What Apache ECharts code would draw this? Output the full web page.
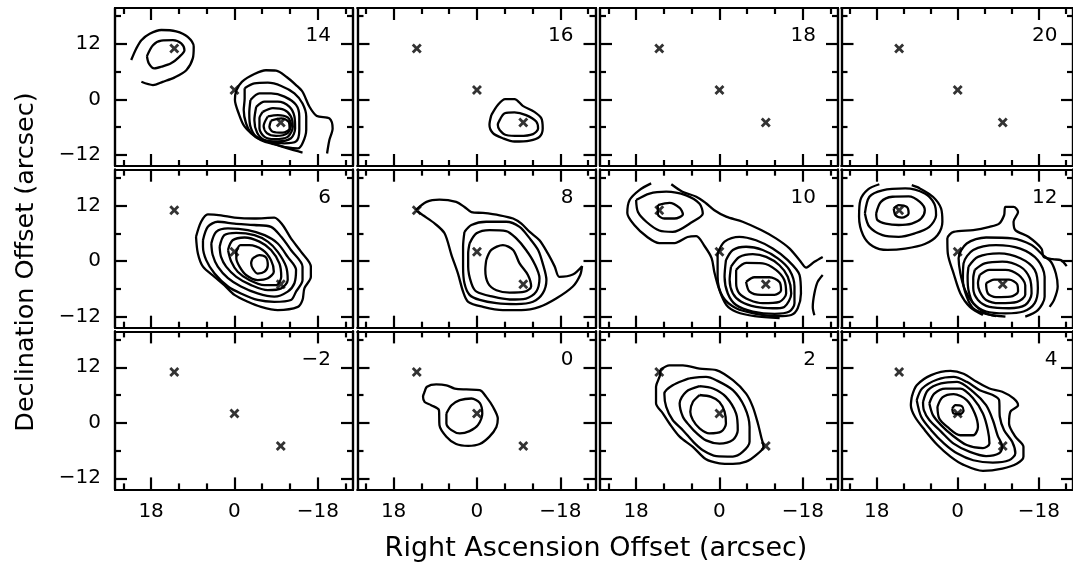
<!DOCTYPE html>
<html><head><meta charset="utf-8">
<script src="https://cdn.jsdelivr.net/npm/echarts@6/dist/echarts.min.js"></script>
<style>html,body{margin:0;padding:0;background:#fff}#chart{width:1073px;height:563px}</style>
</head><body><div id="chart"></div><script>
// Channel maps: velocity label of each panel, row by row
const panelLabels = ['14', '16', '18', '20', '6', '8', '10', '12', '\u22122', '0', '2', '4'];

// Axis ticks (arcsec)
const raMajorTicks = [18, 0, -18];
const raMinorTicks = [24, 12, 6, -6, -12, -24];
const decMajorTicks = [12, 0, -12];
const decMinorTicks = [18, 6, -6];
const raRange = [-25.6, 25.8];
const decRange = [-14.4, 19.75];

// Source positions marked with crosses (RA offset, Dec offset)
const sourceRA = [13, 0, -10];
const sourceDec = [11, 2, -5];

// Contours as [RA offset, Dec offset] vertices
const p14Closed = [
  [[18.9,9.35],[17.6,11.7],[15.8,12.7],[13.3,12.8],[11.5,12.1],[10.8,10.6],[11.9,9.2],[13.7,7.8],[15.8,7.05],[17.3,6.7],[18.5,7.8]],
  [[-2.2,2.4],[-4.3,3.45],[-7.2,3.6],[-10.1,2.9],[-12.95,1.3],[-14.7,-0.9],[-15.5,-3.7],[-15.5,-6.6],[-14.7,-9.5],[-13.7,-10.6],[-11.5,-10.4],[-8.6,-9.7],[-5.75,-8.8],[-3.6,-7.3],[-2.5,-5.2],[-2.0,-2.3],[-2.2,0.2]],
  [[-3.45,-0.15],[-5.4,1.3],[-7.9,1.3],[-10.8,0.6],[-13.3,-1.2],[-14.0,-3.7],[-14.0,-6.6],[-13.3,-9.1],[-10.8,-9.5],[-7.2,-9.1],[-4.7,-8.1],[-3.45,-5.9],[-3.2,-3.0]],
  [[-4.7,-1.6],[-6.5,-0.5],[-9.35,-0.5],[-11.9,-1.6],[-12.95,-3.7],[-13.1,-6.3],[-12.2,-8.4],[-9.35,-9.1],[-6.5,-8.8],[-4.9,-7.2],[-4.3,-4.5]],
  [[-6.1,-2.7],[-8.3,-1.9],[-10.8,-2.3],[-12.2,-3.7],[-12.6,-5.9],[-11.5,-8.1],[-8.6,-8.6],[-6.5,-8.1],[-5.4,-6.3],[-5.4,-4.1]],
  [[-7.2,-3.7],[-9.35,-3.4],[-11.5,-3.9],[-12.2,-5.5],[-11.5,-7.3],[-9.0,-7.9],[-7.0,-7.3],[-6.3,-5.75]],
  [[-7.9,-4.6],[-10.1,-4.1],[-11.65,-4.8],[-11.9,-6.3],[-10.4,-7.2],[-8.3,-7.0],[-7.55,-5.9]]
];
const p14Open = [
  [[22.3,8.5],[21.2,11.0],[20.1,12.8],[18.3,14.2],[15.8,15.0],[12.6,14.7],[10.1,13.5],[8.8,11.4],[9.0,8.85],[10.4,6.3],[12.9,4.75],[15.5,3.8],[17.6,3.1],[20.1,3.8]],
  [[-14.7,-11.5],[-11.5,-10.6],[-7.9,-9.4],[-4.7,-8.1],[-2.2,-5.9],[-0.9,-3.0],[-0.1,-0.1],[-0.4,1.9],[-1.6,3.8],[-4.3,5.5],[-6.8,6.3],[-9.0,6.2],[-11.2,4.9],[-13.3,3.1],[-14.7,1.65],[-16.2,-1.6],[-17.8,-3.6],[-20.5,-4.1],[-21.2,-6.3],[-20.5,-8.8],[-20.0,-11.7]]
];

const p16Closed = [
  [[-3.1,-3.4],[-4.5,-1.2],[-6.1,0.07],[-8.1,0.07],[-9.9,-1.4],[-12.4,-2.7],[-13.9,-4.1],[-14.2,-6.3],[-13.5,-8.1],[-11.4,-8.9],[-8.1,-9.1],[-5.6,-8.4],[-3.45,-7.3],[-2.7,-5.5]],
  [[-4.9,-4.5],[-6.0,-3.0],[-8.1,-2.8],[-10.6,-3.4],[-12.8,-4.8],[-13.2,-6.3],[-12.1,-7.5],[-9.2,-7.9],[-6.3,-7.7],[-4.9,-6.6],[-4.5,-5.5]]
];
const p16Open = [];

const p18Closed = [];
const p18Open = [];
const p20Closed = [];
const p20Open = [];

const p6Closed = [
  [[8.3,5.25],[7.2,8.5],[5.75,10.1],[2.9,9.9],[0,9.4],[-4.3,9.2],[-8.6,9.4],[-10.4,7.8],[-12.2,4.9],[-14.4,2.0],[-16.5,-1.2],[-16.5,-3.4],[-15.1,-5.9],[-14.7,-8.4],[-13.7,-9.9],[-9.35,-10.6],[-5.75,-9.9],[-2.9,-8.8],[0,-7.3],[2.2,-5.2],[4.3,-3.4],[6.8,-1.2],[7.9,1.65]],
  [[6.8,4.5],[5.75,7.4],[3.6,8.5],[0,8.1],[-4.3,7.8],[-7.9,7.4],[-10.1,5.25],[-12.2,2.4],[-14.7,-1.2],[-14.7,-4.1],[-13.3,-6.6],[-12.2,-8.4],[-8.6,-8.8],[-5.0,-8.4],[-1.4,-7.0],[1.4,-5.5],[4.3,-2.7],[6.1,0.2],[6.8,3.1]],
  [[5.0,3.8],[3.95,6.3],[1.4,7.05],[-2.9,6.7],[-6.5,5.6],[-9.35,3.8],[-11.5,0.9],[-13.3,-1.9],[-12.95,-4.8],[-11.5,-6.6],[-8.6,-7.7],[-5.0,-7.0],[-1.4,-5.5],[1.4,-3.7],[3.6,-1.2],[4.7,1.3]],
  [[3.2,3.1],[2.2,5.6],[-0.4,6.1],[-4.3,5.6],[-7.2,4.2],[-9.35,2.0],[-11.15,-1.2],[-11.5,-4.1],[-10.1,-5.9],[-7.2,-6.3],[-3.6,-5.2],[-0.4,-3.4],[1.8,-1.2],[2.9,0.9]],
  [[1.4,2.4],[0.4,4.5],[-2.2,5.1],[-5.4,4.2],[-7.9,2.4],[-9.7,-0.5],[-10.1,-3.4],[-9.0,-5.2],[-6.5,-5.2],[-3.2,-4.1],[-0.7,-2.3],[0.7,-0.1]],
  [[-0.4,2.0],[-1.3,3.45],[-3.2,3.45],[-6.1,2.4],[-7.9,0.2],[-8.5,-2.3],[-7.2,-3.7],[-5.0,-4.1],[-2.5,-3.0],[-1.1,-1.2],[-0.4,0.6]],
  [[-3.95,0.6],[-5.4,1.3],[-6.8,0.8],[-7.2,-0.9],[-6.5,-2.3],[-5.0,-2.7],[-3.95,-1.6],[-3.6,-0.4]]
];
const p6Open = [];

const p8Closed = [
  [[13.2,11.0],[10.9,12.8],[8.1,13.3],[4.5,12.8],[2.7,11.7],[1.2,10.6],[-1.3,10.4],[-4.9,9.9],[-7.8,9.2],[-9.6,8.1],[-11.4,6.3],[-13.5,4.5],[-15.3,1.65],[-16.8,-1.2],[-17.8,-3.4],[-20.7,-2.9],[-22.7,-1.1],[-22.3,-3.0],[-20.7,-5.5],[-17.1,-8.1],[-13.5,-9.9],[-9.6,-10.6],[-5.6,-10.6],[-1.3,-9.9],[1.9,-8.8],[3.0,-6.6],[4.1,-2.7],[5.5,1.3],[7.0,6.0],[9.1,8.1],[11.65,9.9]],
  [[2.7,6.3],[1.2,7.8],[-2.0,8.5],[-6.3,8.5],[-9.2,7.4],[-11.4,4.9],[-13.2,2.4],[-14.2,-0.5],[-15.0,-4.1],[-14.2,-7.0],[-12.1,-8.8],[-8.5,-9.3],[-4.2,-9.1],[-0.6,-8.4],[1.6,-7.3],[2.7,-4.8],[3.0,-1.2],[3.0,3.1]],
  [[1.6,3.8],[0.1,6.0],[-2.7,6.7],[-6.3,6.5],[-8.5,4.9],[-10.6,2.4],[-12.4,-0.5],[-13.5,-3.7],[-12.8,-6.6],[-10.6,-8.1],[-7.05,-8.3],[-3.45,-7.7],[0.1,-6.6],[1.2,-4.8],[1.9,-1.2],[1.9,1.65]],
  [[-2.0,0.2],[-3.1,2.4],[-5.6,3.45],[-7.8,2.4],[-9.2,-0.5],[-11.0,-3.0],[-11.7,-5.5],[-10.3,-6.6],[-7.05,-6.8],[-4.2,-6.3],[-2.4,-4.8],[-1.8,-1.9]]
];
const p8Open = [];

const p10Closed = [
  [[13.3,12.1],[10.8,12.6],[8.6,11.5],[7.9,10.1],[9.7,9.2],[11.9,9.2],[13.3,10.1]],
  [[18.0,13.2],[15.1,14.6],[11.5,15.0],[7.2,14.2],[4.3,12.4],[3.6,10.3],[5.8,8.5],[10.1,6.3],[13.0,6.6],[15.8,8.5],[17.6,10.6]],
  [[-5.75,-4.5],[-7.55,-3.5],[-10.8,-3.5],[-12.95,-4.5],[-13.3,-6.3],[-11.9,-7.3],[-9.0,-7.3],[-6.5,-6.6]],
  [[-3.6,-1.9],[-5.75,-0.4],[-9.35,-0.5],[-12.2,-1.9],[-14.0,-4.1],[-14.4,-7.0],[-12.95,-8.8],[-9.35,-9.1],[-6.5,-8.4],[-4.3,-7.0],[-3.6,-4.8]],
  [[-2.5,-1.2],[-4.3,0.9],[-7.2,1.5],[-10.1,0.9],[-12.95,-0.9],[-14.75,-3.4],[-15.5,-7.0],[-14.0,-9.9],[-11.5,-10.2],[-7.9,-9.9],[-4.7,-8.8],[-2.9,-7.0],[-2.2,-4.1]],
  [[-1.4,0.2],[-2.9,2.4],[-5.75,3.1],[-9.35,2.4],[-12.6,0.6],[-15.1,-1.9],[-16.2,-5.5],[-16.2,-9.1],[-15.1,-10.9],[-11.9,-11.4],[-7.2,-10.9],[-3.6,-9.5],[-1.8,-7.0],[-1.1,-3.4]],
  [[0.4,1.65],[-1.1,4.2],[-4.3,5.25],[-7.9,4.5],[-11.5,2.7],[-14.75,0.2],[-17.3,-3.0],[-17.6,-7.0],[-16.9,-10.2],[-15.5,-11.65],[-12.6,-11.9],[-7.9,-11.4],[-3.6,-10.2],[-0.7,-7.7],[0.4,-3.4]]
];
const p10Open = [
  [[14.75,16.8],[17.3,15.35],[19.4,13.2],[19.9,10.4],[18.4,7.8],[15.6,5.2],[13.0,3.9],[9.7,3.9],[6.9,5.2],[5.0,5.4],[3.2,3.2],[1.7,0.65],[1.1,-2.4],[0,-6.3],[-1.5,-9.5],[-3.7,-11.0],[-7.6,-11.9],[-13.0,-12.3]],
  [[10.4,16.6],[8.0,15.0],[5.0,13.9],[2.9,12.5],[1.1,11.0],[-1.45,9.6],[-5.0,8.5],[-9.0,6.7],[-12.2,4.9],[-15.1,2.75],[-17.3,0.2],[-18.75,-1.4],[-20.5,-0.15],[-22.3,0.9]],
  [[-22.3,-3.0],[-21.2,-4.5],[-20.5,-7.0],[-20.15,-9.9],[-20.5,-11.7]]
];

const p12Closed = [
  [[14.2,11.4],[13.1,12.1],[11.3,11.7],[10.9,10.3],[12.4,9.4],[13.8,9.9]],
  [[18.1,10.3],[17.05,12.8],[14.5,13.9],[10.9,14.0],[8.4,12.8],[7.3,11.0],[8.1,9.2],[10.2,8.1],[13.1,7.8],[16.0,8.1],[17.8,8.85]],
  [[20.6,10.3],[19.6,13.9],[16.7,15.3],[11.65,15.7],[7.3,14.6],[5.2,12.4],[4.8,9.9],[6.3,7.4],[9.5,6.0],[13.1,5.25],[16.7,5.6],[19.6,7.4]],
  [[-6.3,-4.8],[-8.1,-4.0],[-11.4,-4.0],[-13.2,-5.0],[-13.4,-6.6],[-11.7,-7.7],[-8.5,-7.8],[-6.7,-7.0]],
  [[-4.9,-3.0],[-7.05,-1.9],[-10.6,-1.9],[-13.5,-3.0],[-15.0,-5.2],[-15.0,-7.3],[-13.2,-8.8],[-9.2,-9.1],[-6.3,-8.4],[-4.9,-6.6],[-4.5,-4.8]],
  [[-3.8,-1.9],[-6.0,-0.5],[-9.9,-0.1],[-13.9,-1.2],[-16.0,-3.7],[-16.4,-7.0],[-15.0,-9.5],[-11.4,-10.2],[-7.05,-9.9],[-4.5,-8.4],[-3.45,-5.9],[-3.45,-3.7]],
  [[-2.4,-1.2],[-4.5,0.9],[-9.2,1.65],[-13.9,0.6],[-17.1,-1.9],[-17.8,-5.9],[-17.1,-9.1],[-14.6,-10.9],[-10.6,-11.3],[-6.3,-10.9],[-3.45,-9.1],[-2.4,-6.3],[-2.2,-3.4]]
];
const p12Open = [
  [[17.4,16.6],[19.9,15.5],[21.6,13.2],[21.9,9.6],[21.0,5.6],[18.85,3.2],[15.6,2.4],[11.65,2.7],[7.3,3.7],[4.5,5.6],[3.4,8.5],[3.7,11.4],[5.5,13.9],[8.4,15.7],[10.2,16.4]],
  [[-15.0,-12.0],[-17.8,-10.6],[-19.3,-7.7],[-19.3,-3.4],[-17.8,0.2],[-13.9,2.7],[-8.5,3.45],[-3.45,2.4],[-1.3,-0.5],[-1.15,-4.1],[-2.0,-7.7],[-3.45,-10.2],[-6.3,-11.4],[-10.6,-12.0]],
  [[-20.4,-9.9],[-21.4,-8.4],[-22.2,-5.5],[-21.8,-2.7],[-20.7,-0.15],[-18.9,1.3],[-16.4,3.45],[-12.1,4.9],[-6.3,5.1],[-2.0,3.8],[-0.2,0.6],[-0.6,-2.7],[-1.65,-6.3],[-3.45,-9.1],[-6.0,-11.15],[-8.5,-11.9]],
  [[-5.6,-11.65],[-2.7,-9.9],[-0.6,-7.0],[0.9,-2.7],[2.2,1.65],[2.3,4.9],[0.9,6.3],[-3.45,6.7],[-7.05,7.4],[-9.2,8.1],[-10.3,9.9],[-10.6,11.7],[-12.4,11.7],[-13.4,10.6],[-12.4,8.5],[-12.8,6.7],[-15.7,5.25],[-18.6,2.7],[-19.1,0.9],[-21.1,0.4],[-22.9,0.2],[-24.2,-1.1]]
];

const pm2Closed = [];
const pm2Open = [];

const p0Closed = [
  [[11.3,6.7],[10.8,7.8],[8.8,8.3],[6.6,8.1],[4.8,7.4],[2.3,7.2],[-0.6,7.05],[-2.0,5.6],[-3.45,3.45],[-4.5,0.9],[-4.2,-0.9],[-2.7,-3.0],[-0.6,-4.6],[1.9,-5.0],[4.5,-4.6],[6.6,-3.0],[8.1,-0.5],[8.2,2.7],[9.9,3.8],[11.3,4.5],[11.65,5.6]],
  [[6.6,2.0],[5.5,3.8],[3.7,4.9],[1.2,5.25],[-0.6,4.3],[-1.15,2.0],[-0.2,-0.5],[1.6,-1.8],[3.7,-2.3],[5.5,-1.6],[6.6,-0.15]]
];
const p0Open = [];

const p2Closed = [
  [[12.8,11.4],[10.8,12.4],[7.9,12.4],[4.3,11.7],[0.7,11.4],[-2.9,9.2],[-5.75,6.3],[-7.2,3.45],[-8.3,-0.15],[-9.0,-3.0],[-9.5,-5.2],[-7.9,-7.0],[-5.75,-8.4],[-2.9,-8.9],[0,-8.75],[2.9,-7.9],[5.75,-5.2],[8.6,-3.0],[10.8,-0.15],[12.2,2.0],[13.7,4.2],[13.7,7.8],[12.8,10.6]],
  [[6.5,9.6],[2.9,9.9],[0.7,9.2],[-2.9,7.05],[-5.4,3.45],[-6.5,-0.9],[-6.5,-4.1],[-5.0,-6.3],[-2.9,-7.3],[0.7,-7.2],[3.5,-6.0],[5.5,-4.3],[7.9,-1.6],[10.1,0.6],[11.5,3.45],[11.9,6.3],[10.1,8.1]],
  [[4.3,7.9],[1.4,7.4],[-1.4,5.6],[-3.6,2.0],[-3.95,-1.6],[-2.9,-3.7],[0,-4.5],[2.9,-3.8],[5.0,-2.2],[6.5,-0.6],[7.9,1.3],[8.6,4.2],[7.2,6.7]],
  [[4.3,6.0],[1.8,5.6],[0,4.5],[-1.1,2.4],[-1.4,-0.15],[-0.4,-1.9],[2.2,-2.3],[4.3,-1.2],[5.75,0.6],[6.3,2.4],[5.75,4.5]]
];
const p2Open = [];

const p4Closed = [
  [[10.2,5.6],[9.1,8.1],[5.9,10.3],[1.6,11.2],[-1.3,10.6],[-4.2,8.85],[-7.05,7.4],[-9.9,6.7],[-12.4,5.25],[-13.4,3.8],[-11.7,2.4],[-11.4,-0.15],[-12.8,-3.0],[-14.6,-5.2],[-14.6,-7.3],[-13.2,-8.8],[-9.9,-9.9],[-5.6,-10.4],[-1.3,-9.1],[1.6,-7.3],[4.5,-4.8],[7.3,-1.6],[9.5,1.3],[10.4,3.8]],
  [[9.1,4.9],[7.9,7.4],[4.5,9.35],[0.9,9.9],[-2.0,8.85],[-4.9,7.05],[-7.8,6.0],[-9.2,4.9],[-9.35,1.3],[-10.3,-1.6],[-12.1,-4.1],[-12.8,-6.6],[-11.4,-8.1],[-7.8,-8.6],[-3.45,-8.1],[0.15,-6.6],[3.0,-4.5],[5.9,-1.6],[8.1,1.3]],
  [[7.7,4.5],[6.6,7.05],[3.7,8.5],[0.15,8.85],[-3.45,6.7],[-6.3,3.8],[-7.8,0.6],[-8.85,-2.7],[-9.9,-5.2],[-9.2,-6.6],[-6.3,-7.2],[-2.7,-6.3],[0.9,-4.5],[3.7,-1.9],[6.3,0.6],[7.5,2.7]],
  [[6.3,4.2],[5.2,6.3],[2.7,7.4],[-0.6,7.4],[-3.45,5.25],[-5.6,2.0],[-6.7,-1.6],[-7.05,-4.5],[-5.6,-5.5],[-2.0,-4.8],[1.2,-2.7],[3.7,-0.5],[5.5,1.65]],
  [[4.5,3.45],[3.4,5.5],[0.9,6.2],[-2.0,4.9],[-3.8,2.0],[-4.5,-0.9],[-3.45,-2.7],[-0.6,-2.7],[2.3,-0.9],[4.1,0.9]],
  [[1.2,3.1],[0.5,3.8],[-0.9,3.6],[-1.3,2.6],[-0.6,1.9],[0.9,2.0]]
];
const p4Open = [];

const panelClosed = [p14Closed, p16Closed, p18Closed, p20Closed, p6Closed, p8Closed, p10Closed, p12Closed, pm2Closed, p0Closed, p2Closed, p4Closed];
const panelOpen = [p14Open, p16Open, p18Open, p20Open, p6Open, p8Open, p10Open, p12Open, pm2Open, p0Open, p2Open, p4Open];

// Page layout (px)
const colLeft = [115, 357.5, 600, 841.5];
const rowTop = [8, 169.7, 331.4];
const panelW = 238, panelH = 158;
const FONT = 'DejaVu Sans';
const INK = '#000';

const fmt = v => (v < 0 ? '\u2212' + (-v) : String(v));

const grids = [], xAxes = [], yAxes = [], series = [], graphics = [];

function axisCommon(extra) {
  return Object.assign({
    type: 'value', splitLine: { show: false }, scale: false,
    axisLine: { show: true, onZero: false, lineStyle: { color: INK, width: 2.2 } }
  }, extra);
}

panelLabels.forEach((label, i) => {
  const r = Math.floor(i / 4), c = i % 4;
  grids.push({ left: colLeft[c], top: rowTop[r], width: panelW, height: panelH, containLabel: false });
  const xBase = xAxes.length, yBase = yAxes.length;
  const xr = { min: raRange[0], max: raRange[1], inverse: true, gridIndex: i };
  const yr = { min: decRange[0], max: decRange[1], gridIndex: i };
  const showX = r === 2, showY = c === 0;
  const labelStyle = { color: INK, fontFamily: FONT, fontSize: 20, formatter: fmt };
  // bottom / top RA axes: long ticks at labelled values, short ticks between
  ['bottom', 'top'].forEach(pos => {
    xAxes.push(axisCommon(Object.assign({}, xr, { position: pos,
      axisTick: { show: true, inside: true, length: 12, lineStyle: { color: INK, width: 2.2 }, customValues: raMajorTicks },
      axisLabel: (pos === 'bottom' && showX) ? Object.assign({ show: true, margin: 12, customValues: raMajorTicks }, labelStyle) : { show: false } })));
    xAxes.push(axisCommon(Object.assign({}, xr, { position: pos,
      axisTick: { show: true, inside: true, length: 6, lineStyle: { color: INK, width: 2.2 }, customValues: raMinorTicks },
      axisLabel: { show: false } })));
  });
  ['left', 'right'].forEach(pos => {
    yAxes.push(axisCommon(Object.assign({}, yr, { position: pos,
      axisTick: { show: true, inside: true, length: 12, lineStyle: { color: INK, width: 2.2 }, customValues: decMajorTicks },
      axisLabel: (pos === 'left' && showY) ? Object.assign({ show: true, margin: 14, customValues: decMajorTicks }, labelStyle) : { show: false } })));
    yAxes.push(axisCommon(Object.assign({}, yr, { position: pos,
      axisTick: { show: true, inside: true, length: 6, lineStyle: { color: INK, width: 2.2 }, customValues: decMinorTicks },
      axisLabel: { show: false } })));
  });

  const lineSeries = (pts) => ({
    type: 'line', xAxisIndex: xBase, yAxisIndex: yBase, data: pts,
    showSymbol: false, symbol: 'none', smooth: 0.3, clip: true, silent: true,
    lineStyle: { color: INK, width: 2.3 }, z: 3
  });
  panelClosed[i].forEach(pts => series.push(lineSeries(pts.concat([pts[0]]))));
  panelOpen[i].forEach(pts => series.push(lineSeries(pts)));

  series.push({
    type: 'scatter', xAxisIndex: xBase, yAxisIndex: yBase, silent: true,
    data: sourceRA.map((ra, k) => [ra, sourceDec[k]]),
    symbol: 'path://M0,0.2L0.2,0L0.5,0.3L0.8,0L1,0.2L0.7,0.5L1,0.8L0.8,1L0.5,0.7L0.2,1L0,0.8L0.3,0.5Z',
    symbolSize: 10, itemStyle: { color: INK }, z: 4
  });

  graphics.push({
    type: 'text',
    x: colLeft[c] + panelW - 22, y: rowTop[r] + 28,
    style: { text: label, fill: INK, font: '20px "' + FONT + '"', textAlign: 'right', textVerticalAlign: 'middle' }
  });
});

graphics.push({
  type: 'text', x: 596, y: 549,
  style: { text: 'Right Ascension Offset (arcsec)', fill: INK, font: '27px "' + FONT + '"', textAlign: 'center', textVerticalAlign: 'middle' }
});
graphics.push({
  type: 'text', x: 26, y: 262, rotation: Math.PI / 2,
  style: { text: 'Declination Offset (arcsec)', fill: INK, font: '25.5px "' + FONT + '"', textAlign: 'center', textVerticalAlign: 'middle' }
});

const chart = echarts.init(document.getElementById('chart'), null, { renderer: 'canvas' });
chart.setOption({
  backgroundColor: '#fff', animation: false,
  grid: grids, xAxis: xAxes, yAxis: yAxes, series: series, graphic: graphics
});
</script></body></html>
